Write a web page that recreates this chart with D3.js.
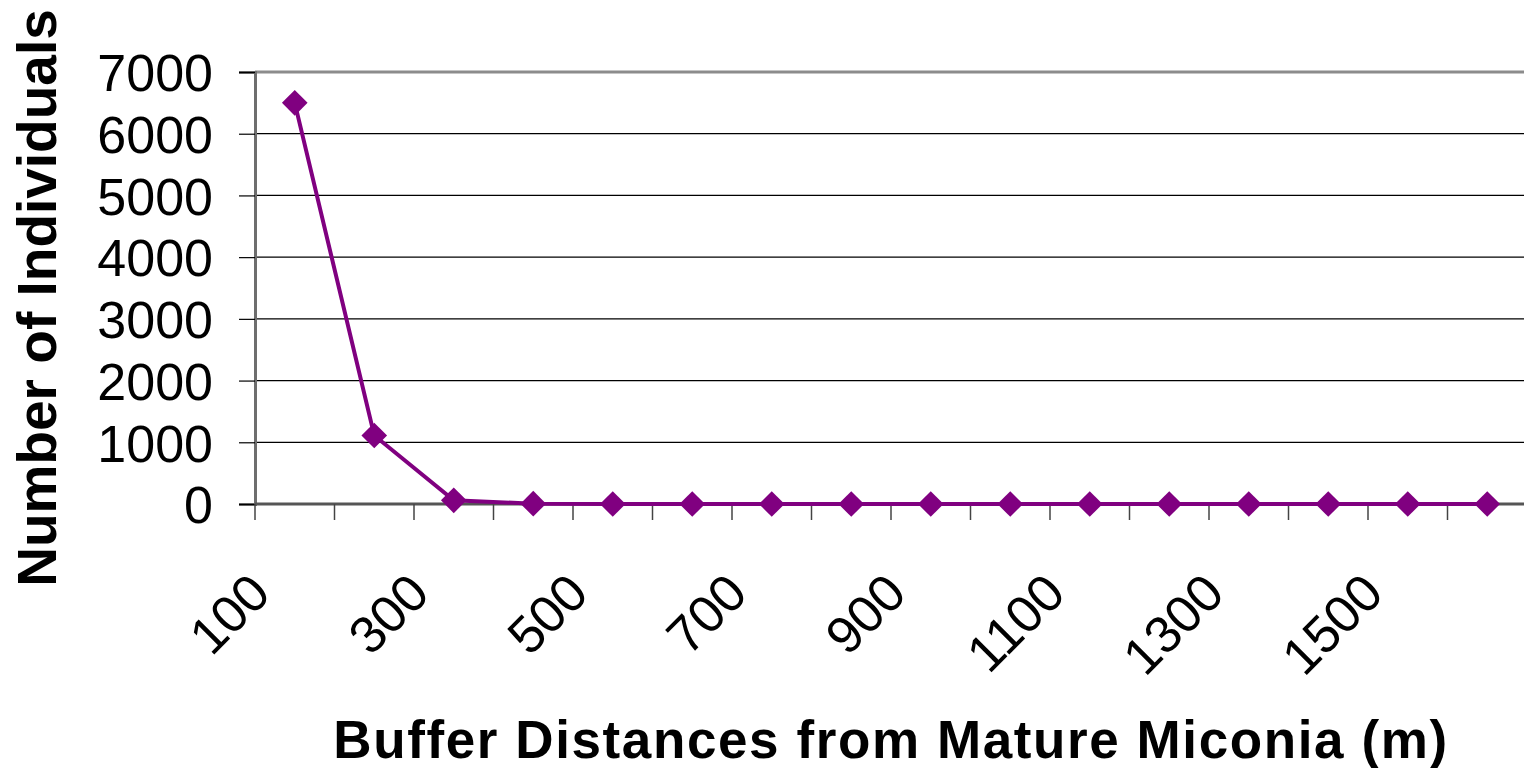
<!DOCTYPE html>
<html>
<head>
<meta charset="utf-8">
<script src="https://cdn.jsdelivr.net/npm/d3@7"></script>
<style>
  body { margin: 0; background: #fff; }
  svg { display: block; font-family: "Liberation Sans", Arial, sans-serif; }
</style>
</head>
<body>
<div id="chart"></div>
<script>
const distances = [100, 200, 300, 400, 500, 600, 700, 800, 900, 1000, 1100, 1200, 1300, 1400, 1500, 1600];
const individuals = [6500, 1110, 60, 5, 0, 0, 0, 0, 0, 0, 0, 0, 0, 0, 0, 0];
const yTicks = [0, 1000, 2000, 3000, 4000, 5000, 6000, 7000];
const xLabels = [100, 300, 500, 700, 900, 1100, 1300, 1500];

const sizes = {
    width: 1524,
    height: 768,
    left: 255,
    right: 1527,
    top: 72,
    bottom: 504
};

const svg = d3.select("#chart")
    .append("svg")
    .attr("width", sizes.width)
    .attr("height", sizes.height);

const xScale = d3.scaleBand()
    .domain(distances)
    .range([sizes.left, sizes.right]);

const yScale = d3.scaleLinear()
    .domain([0, 7000])
    .range([sizes.bottom, sizes.top]);

// grid lines
svg.append("g")
    .selectAll("line")
    .data(yTicks.filter(t => t > 0 && t < 7000))
    .join("line")
    .attr("x1", sizes.left)
    .attr("x2", sizes.right)
    .attr("y1", d => yScale(d))
    .attr("y2", d => yScale(d))
    .attr("stroke", "#000")
    .attr("stroke-width", 1.2);

// plot border top
svg.append("line")
    .attr("x1", sizes.left).attr("x2", sizes.right)
    .attr("y1", yScale(7000)).attr("y2", yScale(7000))
    .attr("stroke", "#8c8c8c")
    .attr("stroke-width", 3);

// y axis
const yAxis = d3.axisLeft(yScale)
    .tickValues(yTicks)
    .tickFormat(d3.format("d"))
    .tickSize(16)
    .tickPadding(26);

const yG = svg.append("g")
    .attr("transform", "translate(" + sizes.left + ",0)")
    .call(yAxis);
yG.select(".domain").attr("stroke", "#6e6e6e").attr("stroke-width", 3);
yG.selectAll(".tick line").attr("stroke", "#000").attr("stroke-width", 1.2);
yG.selectAll(".tick text")
    .attr("font-size", 52)
    .attr("fill", "#000")
    .attr("dy", "0.36em");

// x axis: ticks at band boundaries
const boundaries = distances.map(d => xScale(d)).concat([sizes.right]);
svg.append("line")
    .attr("x1", sizes.left).attr("x2", sizes.right)
    .attr("y1", sizes.bottom).attr("y2", sizes.bottom)
    .attr("stroke", "#555")
    .attr("stroke-width", 3);
svg.append("g")
    .selectAll("line")
    .data(boundaries)
    .join("line")
    .attr("x1", d => d).attr("x2", d => d)
    .attr("y1", sizes.bottom).attr("y2", sizes.bottom + 16)
    .attr("stroke", "#444")
    .attr("stroke-width", 1.5);

svg.append("g")
    .selectAll("text")
    .data(xLabels)
    .join("text")
    .attr("transform", d => "translate(" + (xScale(d) + xScale.bandwidth() / 2 - 22) + "," + (sizes.bottom + 92) + ") rotate(-45)")
    .attr("text-anchor", "end")
    .attr("font-size", 52)
    .attr("fill", "#000")
    .text(d => d);

// line + markers
const line = d3.line()
    .x(d => xScale(d[0]) + xScale.bandwidth() / 2)
    .y(d => yScale(d[1]));

const points = distances.map((d, i) => [d, individuals[i]]);

svg.append("path")
    .datum(points)
    .attr("fill", "none")
    .attr("stroke", "#800080")
    .attr("stroke-width", 4)
    .attr("d", line);

svg.append("g")
    .selectAll("path")
    .data(points)
    .join("path")
    .attr("transform", d => "translate(" + (xScale(d[0]) + xScale.bandwidth() / 2) + "," + yScale(d[1]) + ")")
    .attr("d", d3.symbol().type(d3.symbolDiamond2).size(420))
    .attr("fill", "#800080");

// axis titles
svg.append("text")
    .attr("transform", "translate(56,298) rotate(-90)")
    .attr("text-anchor", "middle")
    .attr("font-size", 55)
    .attr("font-weight", "bold")
    .text("Number of Individuals");

svg.append("text")
    .attr("x", 891)
    .attr("y", 758)
    .attr("text-anchor", "middle")
    .attr("font-size", 53)
    .attr("font-weight", "bold")
    .attr("letter-spacing", 1.6)
    .text("Buffer Distances from Mature Miconia (m)");
</script>
</body>
</html>
